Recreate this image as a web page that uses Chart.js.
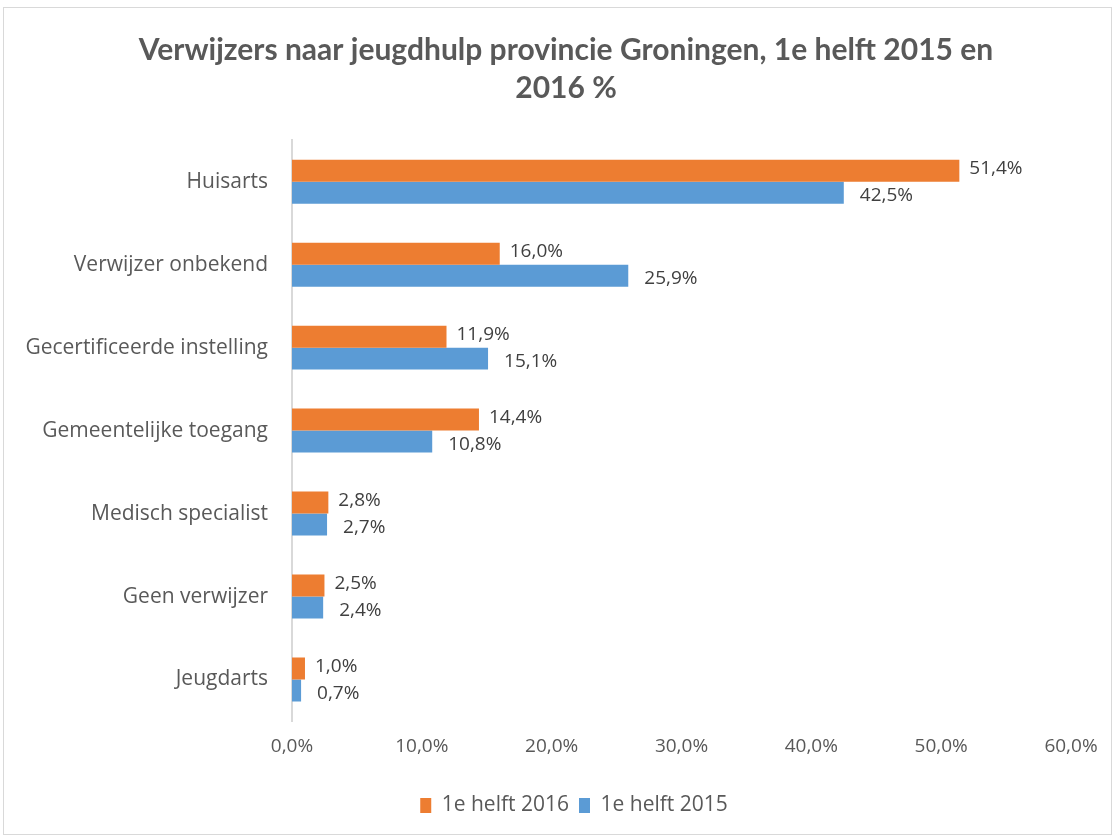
<!DOCTYPE html>
<html>
<head>
<meta charset="utf-8">
<script src="https://cdn.jsdelivr.net/npm/chart.js@4/dist/chart.umd.min.js"></script>
<style>
  body { margin: 0; background: #fff; }
  #wrap { position: relative; width: 1117px; height: 838px; }
  #frame { position: absolute; left: 3px; top: 7px; width: 1107px; height: 826px; border: 1px solid #d9d9d9; pointer-events: none; }
</style>
</head>
<body>
<div id="wrap">
  <canvas id="myChart" width="1117" height="838"></canvas>
  <div id="frame"></div>
</div>
<script>
"use strict";

// data
const categories = ['Huisarts', 'Verwijzer onbekend', 'Gecertificeerde instelling', 'Gemeentelijke toegang',
    'Medisch specialist', 'Geen verwijzer', 'Jeugdarts'];
const helft2016 = [51.4, 16.0, 11.9, 14.4, 2.8, 2.5, 1.0];
const helft2015 = [42.5, 25.9, 15.1, 10.8, 2.7, 2.4, 0.7];
const xTicks = [0, 10, 20, 30, 40, 50, 60];

const fontName = '"Open Sans"';
const grey = '#595959';

function pct(v) {
    return v.toFixed(1).replace('.', ',') + '%';
}

// value labels at the end of each bar
const barLabels = {
    id: 'barLabels',
    afterLayout(chart) {
        // title and legend sit a bit to the right, like in the original
        chart.titleBlock.left = 61;
        chart.legend.left = 77;
    },
    afterDatasetsDraw(chart) {
        const ctx = chart.ctx;
        ctx.save();
        ctx.font = '19px ' + fontName;
        ctx.fillStyle = '#404040';
        ctx.textBaseline = 'middle';
        ctx.textAlign = 'left';
        chart.data.datasets.forEach((ds, i) => {
            const meta = chart.getDatasetMeta(i);
            const dy = i === 0 ? -2 : 3;
            const gap = i === 0 ? 10 : 16;
            meta.data.forEach((bar, j) => {
                ctx.fillText(pct(ds.data[j]), bar.x + gap, bar.y + dy);
            });
        });
        ctx.restore();
    }
};

Chart.defaults.font.family = fontName;
Chart.defaults.color = grey;

var ctx = document.getElementById('myChart').getContext('2d');
var chart = new Chart(ctx, {
    type: 'bar',
    data: {
        labels: categories,
        datasets: [
            {
                label: '1e helft 2016',
                backgroundColor: '#ed7d31',
                data: helft2016,
                categoryPercentage: 0.53,
                barPercentage: 1.0
            },
            {
                label: '1e helft 2015',
                backgroundColor: '#5b9bd5',
                data: helft2015,
                categoryPercentage: 0.53,
                barPercentage: 1.0
            }
        ]
    },
    options: {
        indexAxis: 'y',
        responsive: false,
        animation: false,
        layout: {
            padding: { left: 0, right: 46, top: 0, bottom: 12 }
        },
        plugins: {
            title: {
                display: true,
                text: ['Verwijzers naar jeugdhulp provincie Groningen, 1e helft 2015 en', '2016 %'],
                color: grey,
                font: { family: 'Lato', size: 30, weight: 'bold', lineHeight: 1.27 },
                padding: { top: 31, bottom: 33 }
            },
            legend: {
                position: 'bottom',
                labels: {
                    boxWidth: 11,
                    boxHeight: 15,
                    font: { size: 21 },
                    color: grey,
                    padding: 10
                }
            },
            tooltip: { enabled: false }
        },
        scales: {
            x: {
                min: 0,
                max: 60,
                afterBuildTicks(scale) {
                    scale.ticks = xTicks.map(v => ({ value: v }));
                },
                afterFit(scale) {
                    scale.height = 64;
                },
                grid: { display: false, drawTicks: false },
                border: { display: false },
                ticks: {
                    padding: 14,
                    font: { size: 19 },
                    color: grey,
                    callback: v => pct(v)
                }
            },
            y: {
                afterFit(scale) {
                    scale.width = 292;
                },
                grid: { display: false, drawTicks: false },
                border: { display: true, color: '#d9d9d9', width: 2 },
                ticks: {
                    padding: 24,
                    font: { size: 21 },
                    color: grey
                }
            }
        }
    },
    plugins: [barLabels]
});
</script>
</body>
</html>
